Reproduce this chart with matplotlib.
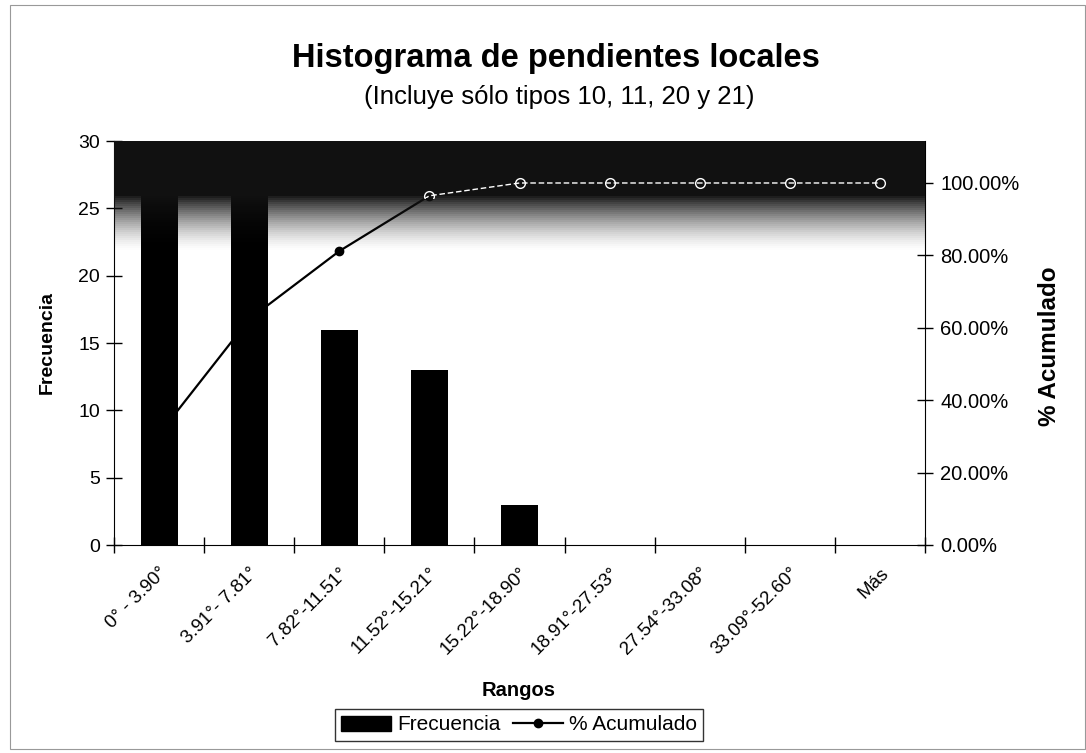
import numpy as np
import matplotlib
matplotlib.use("Agg")
import matplotlib.pyplot as plt
from matplotlib.patches import Rectangle, Patch
from matplotlib.lines import Line2D
from matplotlib.ticker import FuncFormatter
from matplotlib.transforms import ScaledTranslation

plt.rcParams['font.family'] = ['Liberation Sans', 'DejaVu Sans']

# Datos
rangos = ["0° - 3.90°", "3.91°- 7.81°", "7.82°-11.51°", "11.52°-15.21°",
          "15.22°-18.90°", "18.91°-27.53°", "27.54°-33.08°", "33.09°-52.60°", "Más"]
frecuencia = [26, 27, 16, 13, 3, 0, 0, 0, 0]
acumulado = [0.3059, 0.6235, 0.8118, 0.9647, 1.0, 1.0, 1.0, 1.0, 1.0]

W, H = 1086, 753
fig = plt.figure(figsize=(W / 100, H / 100), dpi=100)

# Borde del area del grafico
fig.patches.append(Rectangle((10 / W, 4 / H), (W - 11) / W, (H - 9) / H,
                             transform=fig.transFigure, fill=False,
                             edgecolor='#999999', lw=0.8))

ax = fig.add_axes([114 / W, 1 - 545 / H, (925 - 114) / W, (545 - 141) / H])
ax2 = ax.twinx()
# barras por encima de la linea (como en el original)
ax.set_zorder(ax2.get_zorder() + 1)
ax.patch.set_visible(False)

x = np.arange(len(rangos))
ax.bar(x, frecuencia, width=0.41, color='black', zorder=2)
ax.set_xlim(-0.5, len(rangos) - 0.5)
ax.set_ylim(0, 30)
ax.set_yticks(range(0, 31, 5))
ax.set_xticks(x)
ax.set_xticklabels(rangos, rotation=45, ha='right', va='top',
                   rotation_mode='anchor', fontsize=13.5)
offset = ScaledTranslation(-13 / 100, 0, fig.dpi_scale_trans)
for lab in ax.get_xticklabels():
    lab.set_transform(lab.get_transform() + offset)
ax.set_xticks(np.arange(-0.5, len(rangos)), minor=True)
ax.tick_params(axis='x', which='major', length=0, pad=14)
ax.tick_params(axis='x', which='minor', direction='inout', length=12, width=1)
ax.tick_params(axis='y', direction='inout', length=12, width=1, labelsize=14, pad=4)
for s in ['top', 'right']:
    ax.spines[s].set_visible(False)

ax2.set_ylim(0, 1.116)
ax2.set_yticks(np.arange(0, 1.01, 0.2))
ax2.yaxis.set_major_formatter(FuncFormatter(lambda v, p: f"{v * 100:.2f}%"))
ax2.tick_params(axis='y', direction='inout', length=12, width=1, labelsize=14.5, pad=5)
for s in ['top', 'left', 'bottom']:
    ax2.spines[s].set_visible(False)

# Linea acumulada (debajo de las barras)
ax2.plot(x, acumulado, color='black', lw=1.6, marker='o', ms=6, zorder=3)

# Banda oscura del escaneo en la parte superior
edges = np.linspace(0.73, 0.87, 29)
for i in range(len(edges) - 1):
    a = (i + 1) / (len(edges) - 1)
    ax.add_patch(Rectangle((0, edges[i]), 1, edges[i + 1] - edges[i],
                           transform=ax.transAxes, color='#111111',
                           alpha=a ** 1.5, lw=0, zorder=4))
ax.add_patch(Rectangle((0, 0.87), 1, 0.13, transform=ax.transAxes,
                       color='#111111', lw=0, zorder=4))

clip = Rectangle((0, 0.86), 1, 0.14, transform=ax.transAxes)
wl, = ax.plot(x, acumulado, color='white', lw=1, ls=(0, (4, 2)), marker='o',
              ms=7, mfc='none', mec='white', zorder=6, transform=ax2.transData)
wl.set_clip_path(clip)
ax.set_xlim(-0.5, len(rangos) - 0.5)
ax.set_ylim(0, 30)

# Textos
fig.text(556 / W, 1 - 58 / H, "Histograma de pendientes locales",
         ha='center', va='center', fontsize=23.5, fontweight='bold')
fig.text(559 / W, 1 - 97 / H, "(Incluye sólo tipos 10, 11, 20 y 21)",
         ha='center', va='center', fontsize=18.5)
fig.text(47 / W, 1 - 342 / H, "Frecuencia", rotation=90, ha='center',
         va='center', fontsize=14, fontweight='bold')
fig.text(1050 / W, 1 - 346 / H, "% Acumulado", rotation=90, ha='center',
         va='center', fontsize=17.5, fontweight='bold')
fig.text(519 / W, 1 - 690 / H, "Rangos", ha='center', va='center',
         fontsize=14.5, fontweight='bold')

handles = [Patch(facecolor='black', edgecolor='black'),
           Line2D([], [], color='black', marker='o', ms=6, lw=1.6)]
leg = fig.legend(handles, ['Frecuencia', '% Acumulado'], loc='center',
                 bbox_to_anchor=(519 / W, 1 - 725 / H), ncol=2, frameon=True,
                 fancybox=False, edgecolor='black', fontsize=15,
                 handlelength=2.4, handletextpad=0.3, columnspacing=0.6,
                 borderpad=0.3, borderaxespad=0)
leg.get_frame().set_linewidth(1)

fig.savefig("out.png", dpi=100)
